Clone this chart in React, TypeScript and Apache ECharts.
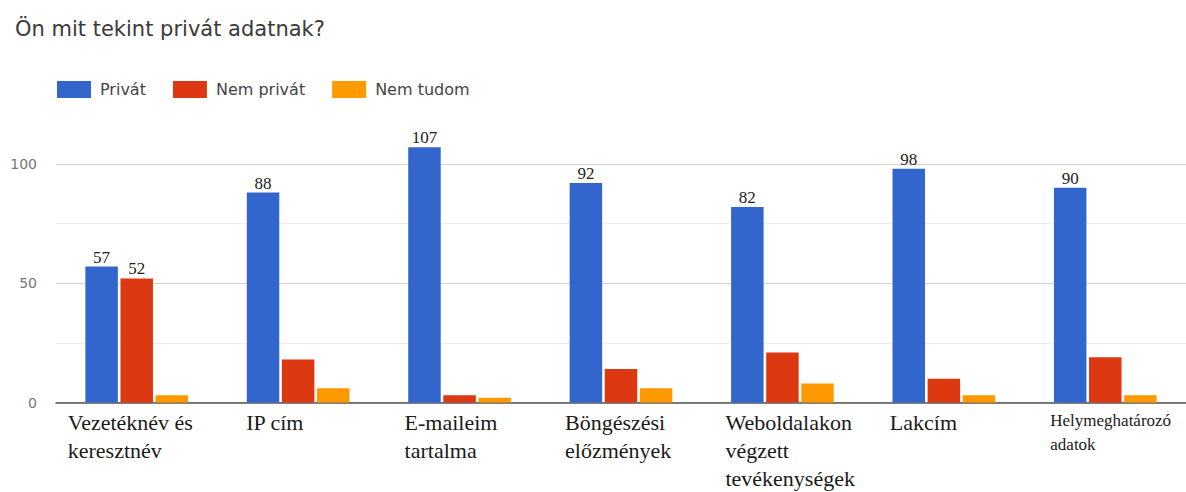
import React, { useEffect, useRef } from "react";
import * as echarts from "echarts";

const titleText = "Ön mit tekint privát adatnak?";
const seriesNames = ["Privát", "Nem privát", "Nem tudom"];
const categories = [
  "Vezetéknév és\nkeresztnév",
  "IP cím",
  "E-maileim\ntartalma",
  "Böngészési\nelőzmények",
  "Weboldalakon\nvégzett\ntevékenységek",
  "Lakcím",
  "Helymeghatározó\nadatok",
];
const privat = [57, 88, 107, 92, 82, 98, 90];
const nemPrivat = [52, 18, 3, 14, 21, 10, 19];
const nemTudom = [3, 6, 2, 6, 8, 3, 3];
const nemPrivatLabelShown = [true, false, false, false, false, false, false];
const yTicks = { min: 0, max: 100, interval: 50 };

const colors = ["#3366cc", "#dc3912", "#ff9900"];
const labelShift = [-69, -52, -55, -56, -57, -54, -55];
const labelFont = [22, 22, 22, 22, 22, 22, 17];
const labelLine = [28, 28, 28, 28, 28, 28, 24];

export default function App() {
  const ref = useRef<HTMLDivElement>(null);
  useEffect(() => {
    if (!ref.current) return;
    const chart = echarts.init(ref.current, undefined, { renderer: "svg" });
    const rich: Record<string, any> = {};
    categories.forEach((_, i) => {
      rich["s" + i] = {
        fontFamily: "Liberation Serif",
        fontSize: labelFont[i],
        lineHeight: labelLine[i],
        color: "#1a1a1a",
        align: "left",
        padding: [0, 0, 0, labelShift[i]],
      };
    });
    const valueLabel = {
      show: true,
      position: "top",
      distance: 1,
      fontFamily: "Liberation Serif",
      fontSize: 17,
      color: "#222",
    };
    chart.setOption({
      animation: false,
      backgroundColor: "#ffffff",
      title: {
        text: titleText,
        left: 15,
        top: 18,
        padding: 0,
        textStyle: {
          fontFamily: "DejaVu Sans",
          fontSize: 21,
          fontWeight: "normal",
          color: "#3a3a3a",
        },
      },
      legend: {
        data: seriesNames,
        left: 57,
        top: 81,
        padding: 0,
        itemWidth: 34,
        itemHeight: 17,
        itemGap: 27,
        icon: "rect",
        textStyle: {
          fontFamily: "DejaVu Sans",
          fontSize: 16,
          color: "#444",
          padding: [0, 0, 0, 4],
        },
      },
      grid: { left: 56, top: 164, width: 1133, height: 238.5, containLabel: false },
      xAxis: {
        type: "category",
        data: categories,
        axisTick: { show: false },
        axisLine: { lineStyle: { color: "#555", width: 1.5 } },
        axisLabel: {
          interval: 0,
          margin: 6,
          align: "left",
          formatter: (value: string, index: number) =>
            value
              .split("\n")
              .map((l) => `{s${index}|${l}}`)
              .join("\n"),
          rich,
        },
      },
      yAxis: {
        type: "value",
        min: yTicks.min,
        max: yTicks.max,
        interval: yTicks.interval,
        axisLine: { show: false },
        axisTick: { show: false },
        axisLabel: {
          margin: 19,
          fontFamily: "DejaVu Sans",
          fontSize: 14,
          color: "#757575",
        },
        splitLine: { lineStyle: { color: "#d3d3d3", width: 1 } },
        minorTick: { show: false, splitNumber: 2 },
        minorSplitLine: { show: true, lineStyle: { color: "#ececec", width: 1 } },
      },
      series: [
        {
          name: seriesNames[0],
          type: "bar",
          data: privat,
          barWidth: 32.5,
          barGap: "8%",
          clip: false,
          itemStyle: { color: colors[0] },
          label: valueLabel,
        },
        {
          name: seriesNames[1],
          type: "bar",
          data: nemPrivat.map((v, i) => ({
            value: v,
            label: { show: nemPrivatLabelShown[i] },
          })),
          barWidth: 32.5,
          barGap: "8%",
          clip: false,
          itemStyle: { color: colors[1] },
          label: valueLabel,
        },
        {
          name: seriesNames[2],
          type: "bar",
          data: nemTudom,
          barWidth: 32.5,
          barGap: "8%",
          clip: false,
          itemStyle: { color: colors[2] },
          label: { show: false },
        },
      ],
    });
    return () => chart.dispose();
  }, []);
  return <div ref={ref} style={{ width: 1186, height: 492, position: "absolute", left: 0, top: 0 }} />;
}
